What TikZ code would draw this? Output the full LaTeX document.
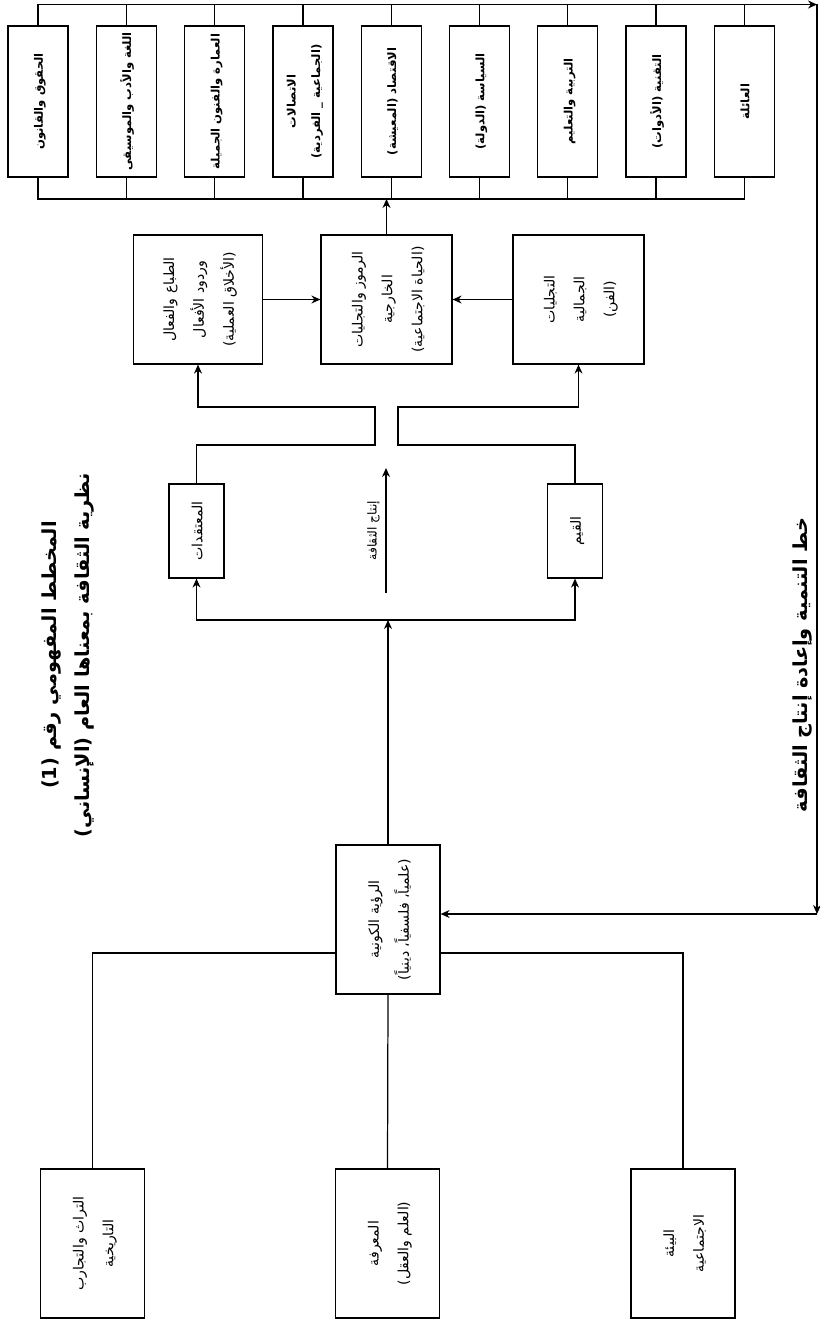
\documentclass[tikz,border=0pt]{standalone}
\usepackage{fontspec}
\usepackage{graphicx}
\newfontfamily\arabicfont[Script=Arabic]{DejaVu Sans}
\TeXXeTstate=1
\usepackage{tikz}
\usetikzlibrary{arrows.meta,calc,positioning}
\newcommand{\rl}[1]{\beginR #1\endR}
\newcommand{\vtext}[1]{\rotatebox{90}{\begin{tabular}{@{}c@{}}#1\end{tabular}}}

\begin{document}
\begin{tikzpicture}[x=0.02cm,y=-0.02cm,line width=0.7pt,>={Stealth[length=1.8mm,width=1.6mm]},
  box/.style={draw,inner sep=0pt,font=\arabicfont\fontsize{8}{17}\selectfont},
  sz/.style 2 args={minimum width=#1*0.02cm,minimum height=#2*0.02cm},
  bold/.style={font=\arabicfont\bfseries\fontsize{11}{19}\selectfont}]
\useasboundingbox (0,0) rectangle (820,1324);
\foreach \i/\lab in {1/{\rl{الحقوق والقانون}},2/{\rl{اللغة والأدب والموسيقى}},3/{\rl{العمارة والفنون الجميلة}},
  4/{\rl{الاتصالات}\\\rl{(الجماعية \_ الفردية)}},5/{\rl{الاقتصاد (المعيشة)}},6/{\rl{السياسة (الدولة)}},
  7/{\rl{التربية والتعليم}},8/{\rl{التقنية (الأدوات)}},9/{\rl{العائلة}}} {
  \node[box,sz={60}{151},font=\arabicfont\bfseries\fontsize{6.6}{14}\selectfont] (f\i) at ({38+88.3*(\i-1)},101.5) {\vtext{\lab}};
}
\coordinate (tr) at (817,4.5);
\coordinate (br) at (817,914);
\coordinate (bus) at (388,199);
\draw[->] (f1.north) |- (tr);
\foreach \i in {2,...,9} \draw (f\i.north) -- (f\i.north |- tr);
\draw (f1.south) |- (f9.south |- bus) -- (f9.south);
\foreach \i in {2,...,8} \draw (f\i.south) -- (f\i.south |- bus);

\node[box,sz={129}{129}] (m1) at (198,299.5) {\vtext{\rl{الطباع والفعال}\\\rl{وردود الأفعال}\\\rl{(الأخلاق العملية)}}};
\node[box,sz={131}{129}] (m2) at (386.5,299.5) {\vtext{\rl{الرموز والتجليات}\\\rl{الخارجية}\\\rl{(الحياة الاجتماعية)}}};
\node[box,sz={131}{129}] (m3) at (578.5,299.5) {\vtext{\rl{التجليات}\\\rl{الجمالية}\\\rl{(الفن)}}};
\draw[->] (m2.north) -- (m2.north |- bus);
\draw[->] (m1) -- (m2);
\draw[->] (m3) -- (m2);

\node[box,sz={55}{94}] (b1) at (196.5,531) {\vtext{\rl{المعتقدات}}};
\node[box,sz={55}{94}] (b2) at (575,531) {\vtext{\rl{القيم}}};
\coordinate (kl) at (375,445);
\coordinate (kl2) at (375,407);
\coordinate (kr) at (398,445);
\coordinate (kr2) at (398,407);
\draw[->] (b1.north) |- (kl) -- (kl2) -| (m1.south);
\draw[->] (b2.north) |- (kr) -- (kr2) -| (m3.south);

\coordinate (p0) at (386,593);
\coordinate (p1) at (386,468);
\draw[->] (p0) -- node[midway,rotate=90,anchor=south,font=\arabicfont\fontsize{7}{9}\selectfont] (plab) {\rl{إنتاج الثقافة}} (p1);

\node[box,sz={104}{149}] (r) at (388,919.5) {\vtext{\rl{الرؤية الكونية}\\\rl{(علمياً، فلسفياً، دينياً)}}};
\coordinate (hm) at (388,620);
\draw[->] (r.north) -- (hm);
\draw[->] (hm) -| (b1.south);
\draw[->] (hm) -| (b2.south);
\draw[->] (tr) -- (br);
\draw[->] (br) -- (r.east |- br);

\node[box,sz={104}{149}] (s1) at (92.5,1243.5) {\vtext{\rl{التراث والتجارب}\\\rl{التاريخية}}};
\node[box,sz={104}{149}] (s2) at (387.5,1243.5) {\vtext{\rl{المعرفة}\\\rl{(العلم والعقل)}}};
\node[box,sz={104}{149}] (s3) at (683,1243.5) {\vtext{\rl{البيئة}\\\rl{الاجتماعية}}};
\coordinate (yb) at (0,953);
\draw (r.west |- yb) -| (s1.north);
\draw (r.east |- yb) -| (s3.north);
\draw (r.south) -- (s2.north);

\node[bold,rotate=90,align=center] (title) at (68,655) {\rl{المخطط المفهومي رقم (1)}\\\rl{نظرية الثقافة بمعناها العام (الإنساني)}};
\node[bold,rotate=90] (dev) at (803,665) {\rl{خط التنمية وإعادة إنتاج الثقافة}};
\end{tikzpicture}
\end{document}
